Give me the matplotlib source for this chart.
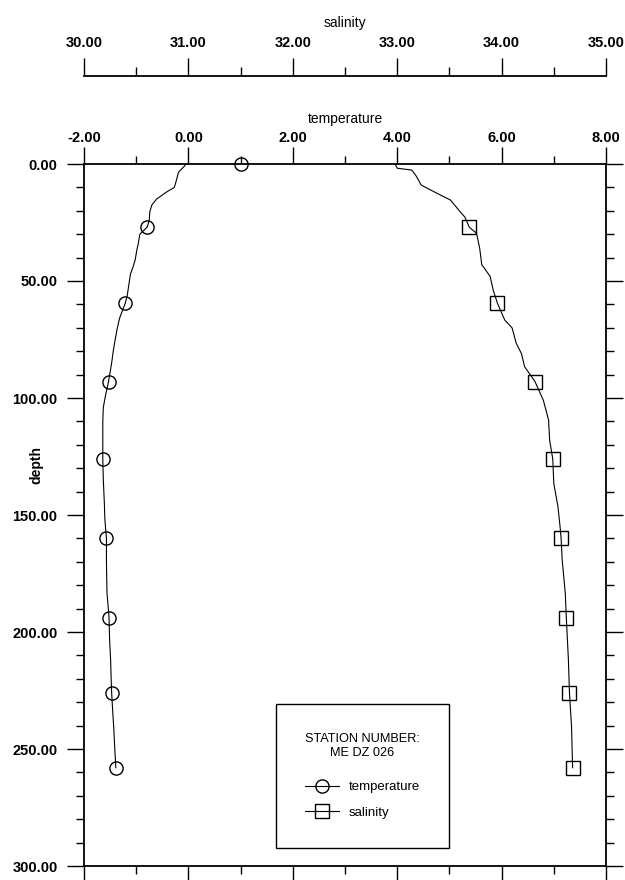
import matplotlib
matplotlib.use('Agg')
import matplotlib.pyplot as plt
from matplotlib.ticker import MultipleLocator, FormatStrFormatter

plt.rcParams['font.family'] = ['Liberation Sans', 'DejaVu Sans']

# temperature profile (depth, deg C)
temp_depth = [0, 1, 3.5, 7, 10, 12, 15, 17.5, 20.5, 24, 27, 30, 34, 37, 41,
              44, 47, 50, 53, 56, 59.5, 63, 66, 71, 76, 80, 85, 89, 93, 98,
              104, 110, 115, 120, 126, 135, 145, 152, 160, 170, 183, 194, 203,
              212, 220, 226, 234, 241, 250, 258]
temp_vals = [-0.05, -0.08, -0.19, -0.23, -0.27, -0.42, -0.61, -0.70, -0.74,
             -0.75, -0.79, -0.93, -0.96, -0.99, -1.02, -1.06, -1.11, -1.13,
             -1.15, -1.17, -1.21, -1.27, -1.32, -1.37, -1.41, -1.44, -1.47,
             -1.50, -1.53, -1.58, -1.63, -1.64, -1.64, -1.64, -1.64, -1.63,
             -1.61, -1.60, -1.57, -1.57, -1.56, -1.52, -1.51, -1.49, -1.48,
             -1.47, -1.45, -1.43, -1.41, -1.39]

# salinity profile (depth, psu)
sal_depth = [0, 1.8, 2.6, 5, 9, 12.5, 15.4, 19.7, 22.8, 27, 29.6, 36, 43, 48,
             54, 59.5, 66.7, 70, 76.6, 81, 86.6, 93, 101, 109.4, 118, 126,
             136.5, 146.5, 155, 160, 169, 183.5, 194, 212, 226, 240.5, 258]
sal_vals = [32.98, 33.00, 33.14, 33.18, 33.23, 33.38, 33.51, 33.59, 33.65,
            33.69, 33.76, 33.79, 33.81, 33.89, 33.92, 33.96, 34.03, 34.10,
            34.14, 34.19, 34.22, 34.32, 34.40, 34.45, 34.46, 34.49, 34.50,
            34.54, 34.56, 34.57, 34.58, 34.61, 34.62, 34.64, 34.65, 34.67,
            34.68]

# depths where the symbols are drawn
marker_depth = [27, 59.5, 93, 126, 160, 194, 226, 258]
# odd single circle sitting on the surface
surface_temp = [1.0]
surface_depth = [0.0]

station = 'STATION NUMBER:\nME DZ 026'

temp_marks = [temp_depth.index(d) for d in marker_depth]
sal_marks = [sal_depth.index(d) for d in marker_depth]

fig = plt.figure(figsize=(6.25, 8.8), dpi=100)
ax = fig.add_axes([84/625, 1 - 866/880, 522/625, 702/880])
# salinity drawn on a twin sharing depth
ax_s = ax.twiny()

ax.set_xlim(-2, 8)
ax.set_ylim(300, 0)
ax_s.set_xlim(30, 35)
ax_s.xaxis.set_visible(False)
for sp in ax_s.spines.values():
    sp.set_visible(False)

ax.xaxis.set_major_locator(MultipleLocator(2))
ax.xaxis.set_minor_locator(MultipleLocator(1))
ax.yaxis.set_major_locator(MultipleLocator(50))
ax.yaxis.set_minor_locator(MultipleLocator(10))
ax.xaxis.set_major_formatter(FormatStrFormatter('%.2f'))
ax.yaxis.set_major_formatter(FormatStrFormatter('%.2f'))
ax.tick_params(which='both', direction='out', top=True, bottom=True,
               left=True, right=True, labeltop=True, labelbottom=False,
               labelleft=True, labelright=False, width=1.0)
ax.tick_params(which='major', length=12, labelsize=10.5)
ax.tick_params(which='minor', length=5.5)
ax.tick_params(axis='x', pad=1.5)
ax.tick_params(axis='y', pad=7)
for lab in ax.get_xticklabels() + ax.get_yticklabels():
    lab.set_fontweight('bold')
for sp in ax.spines.values():
    sp.set_linewidth(1.3)

ax.xaxis.set_label_position('top')
ax.set_xlabel('temperature', fontsize=10, labelpad=6)
ax.set_ylabel('depth', fontsize=10, fontweight='bold')
ax.yaxis.set_label_coords(-0.077, 0.571)

l_temp, = ax.plot(temp_vals, temp_depth, color='black', lw=0.8,
                  marker='o', markevery=temp_marks, ms=9.5, mfc='none',
                  mec='black', mew=1.0)
ax.plot(surface_temp, surface_depth, ls='none', marker='o', ms=9.5,
        mfc='none', mec='black', mew=1.0, clip_on=False)
l_sal, = ax_s.plot(sal_vals, sal_depth, color='black', lw=0.8,
                   marker='s', markevery=sal_marks, ms=9.5, mfc='none',
                   mec='black', mew=1.0)

leg = ax_s.legend([l_temp, l_sal], ['temperature', 'salinity'], title=station,
                  loc='upper left', bbox_to_anchor=(0.368, 0.231),
                  bbox_transform=ax.transAxes, borderaxespad=0,
                  fancybox=False, edgecolor='black', framealpha=1,
                  fontsize=9.5, title_fontsize=9.2, borderpad=2.2,
                  labelspacing=1.0, handlelength=2.6, handletextpad=0.7)
leg.get_frame().set_linewidth(1.0)
leg.get_title().set_multialignment('center')
# a bit more room between the station title and the entries
leg._legend_box.sep = 16

# separate salinity scale above the plot
ax_top = fig.add_axes([84/625, 1 - 76/880 - 0.01, 522/625, 0.01])
ax_top.patch.set_visible(False)
ax_top.set_xlim(30, 35)
ax_top.set_yticks([])
for side in ['left', 'right', 'bottom']:
    ax_top.spines[side].set_visible(False)
ax_top.spines['top'].set_linewidth(1.3)
ax_top.xaxis.set_major_locator(MultipleLocator(1))
ax_top.xaxis.set_minor_locator(MultipleLocator(0.5))
ax_top.xaxis.set_major_formatter(FormatStrFormatter('%.2f'))
ax_top.tick_params(which='both', direction='out', top=True, bottom=False,
                   labeltop=True, labelbottom=False, width=1.0)
ax_top.tick_params(which='major', length=13, labelsize=10.5, pad=6)
ax_top.tick_params(which='minor', length=6.5)
for lab in ax_top.get_xticklabels():
    lab.set_fontweight('bold')
ax_top.xaxis.set_label_position('top')
ax_top.set_xlabel('salinity', fontsize=10, labelpad=6)

fig.savefig('out.png', dpi=100)
